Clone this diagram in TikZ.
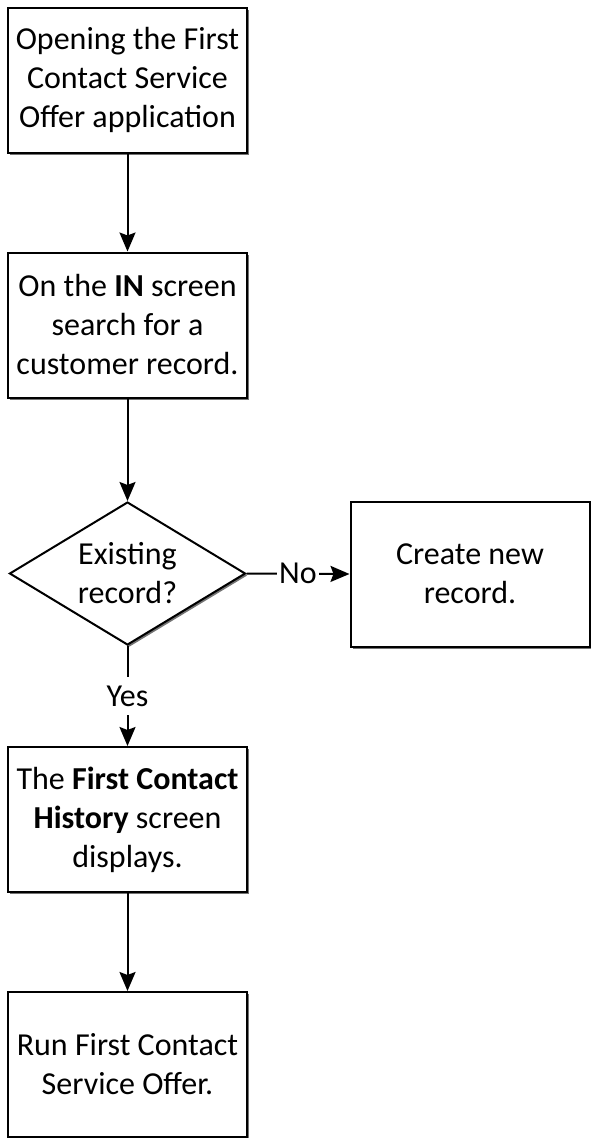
\documentclass[tikz,border=0pt]{standalone}
\usepackage{fontspec}
\setmainfont{Carlito}
\usetikzlibrary{shapes.geometric,arrows.meta,shadows}

\begin{document}
\begin{tikzpicture}[
  x=1pt, y=-1pt,
  txt/.style={font=\fontsize{32}{39}\selectfont, align=center},
  stepbox/.style={txt, draw=black, line width=2pt, fill=white,
    minimum width=239pt, minimum height=145pt, inner sep=0pt,
    drop shadow={shadow xshift=2pt, shadow yshift=-2pt, fill=black!55, opacity=1}},
  decision/.style={txt, shape=diamond, aspect=1.65, draw=black, line width=2pt,
    fill=white, minimum width=236pt, minimum height=143pt, inner sep=0pt,
    drop shadow={shadow xshift=2pt, shadow yshift=-2pt, fill=black!55, opacity=1}},
  flow/.style={line width=2pt, -{Stealth[length=19pt, width=16pt, inset=3pt]}},
  lbl/.style={txt, fill=white, inner xsep=2pt, inner ysep=9pt}
]
\useasboundingbox (0,0) rectangle (590,1138);

% process steps
\node[stepbox] (open) at (127.5,80) {Opening the First\\Contact Service\\Offer application};
\node[stepbox] (search) at (127.5,325) {On the \textbf{IN} screen\\search for a\\customer record.};
\node[decision] (exist) at (127.5,573.5) {Existing\\record?};
\node[stepbox] (create) at (470,574) {Create new\\record.};
\node[stepbox] (history) at (127.5,819.5) {The \textbf{First Contact}\\\textbf{History} screen\\displays.};
\node[stepbox] (run) at (127.5,1064.5) {Run First Contact\\Service Offer.};

% connectors
\draw[flow] (open) -- (search);
\draw[flow] (search) -- (exist);
\draw[flow] (exist.east) -- node[lbl] {No} (create.west);
\draw[flow] (exist.south) -- node[lbl] {Yes} (history.north);
\draw[flow] (history) -- (run);
\end{tikzpicture}
\end{document}
